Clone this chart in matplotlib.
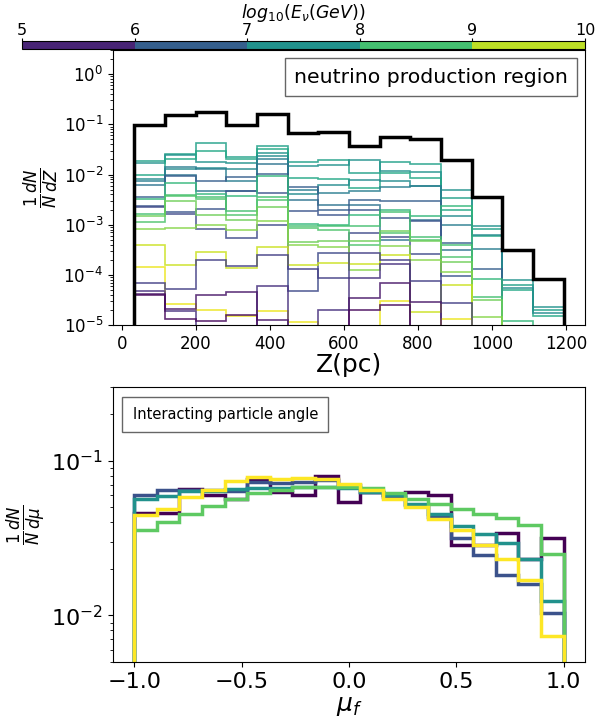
import numpy as np
import matplotlib
matplotlib.use('Agg')
import matplotlib.pyplot as plt
from matplotlib.offsetbox import AnchoredText

# top panel: Z bins (pc) and log10 of 1/N dN/dZ
z_edges = np.linspace(34, 1194, 15)
total_log = [-1.02, -0.82, -0.75, -1.02, -0.79, -1.18, -1.15, -1.44, -1.25, -1.30, -1.72, -2.45, -3.50, -4.08]

energies = [7.8, 7.55, 7.95, 7.4, 7.1, 6.9, 6.5, 6.3, 6.1, 8.3, 8.5, 8.6, 8.9, 9.1, 9.6, 9.85, 5.9, 5.7, 5.3, 5.1]
lines_log = [
    [-1.73, -1.59, -1.38, -1.65, -1.43, -1.75, -1.72, -1.97, -1.75, -1.79, -2.47, -3.08, -4.20, -4.71],
    [-1.78, -1.62, -1.75, -1.77, -1.57, -1.83, -1.81, -1.72, -1.93, -1.95, -2.30, -3.03, -4.11, -4.65],
    [-2.00, -1.70, -1.53, -1.70, -1.50, -2.07, -2.09, -2.27, -1.97, -2.07, -2.70, -3.23, -4.30, -4.82],
    [-2.09, -1.90, -1.87, -1.90, -1.63, -2.38, -2.20, -2.11, -2.12, -2.23, -2.83, -3.20, -4.27, -4.77],
    [-2.13, -1.85, -1.90, -2.13, -1.70, -2.30, -2.37, -2.33, -2.25, -2.23, -3.00, -3.48, -6, -6],
    [-2.20, -2.00, -2.33, -2.33, -1.80, -2.50, -2.60, -2.60, -3.31, -2.90, -3.50, -6, -6, -6],
    [-2.45, -2.03, -2.12, -2.05, -1.99, -2.25, -2.71, -2.50, -2.52, -2.53, -3.37, -3.88, -6, -6],
    [-2.62, -2.75, -2.69, -2.33, -2.37, -2.72, -2.81, -2.70, -2.87, -2.93, -4.03, -6, -6, -6],
    [-2.65, -2.79, -3.08, -3.27, -3.01, -4.33, -3.57, -3.17, -3.25, -3.59, -6, -6, -6, -6],
    [-2.49, -2.17, -2.38, -2.42, -2.03, -2.98, -3.00, -2.81, -2.70, -2.83, -2.62, -4.09, -4.93, -6],
    [-2.79, -2.40, -2.45, -2.73, -2.45, -3.02, -3.03, -3.03, -2.75, -3.25, -3.40, -4.45, -6, -6],
    [-2.95, -2.43, -2.48, -2.80, -2.50, -3.07, -3.10, -3.40, -3.17, -3.30, -3.65, -6, -6, -6],
    [-2.83, -2.52, -2.81, -2.91, -2.65, -3.35, -3.33, -3.33, -3.13, -3.33, -3.75, -4.50, -6, -6],
    [-3.09, -3.07, -3.00, -3.10, -2.93, -3.40, -3.45, -3.91, -3.42, -3.70, -3.95, -4.85, -6, -6],
    [-3.41, -3.80, -3.55, -3.87, -3.45, -3.81, -3.77, -3.78, -3.60, -4.75, -4.20, -6, -6, -6],
    [-3.85, -4.59, -4.70, -4.83, -4.73, -4.95, -6, -6, -4.53, -6, -4.88, -6, -6, -6],
    [-4.17, -4.29, -3.71, -3.83, -3.60, -3.88, -4.07, -3.57, -3.70, -4.12, -4.57, -6, -6, -6],
    [-4.33, -4.73, -6, -6, -4.23, -6, -4.70, -4.07, -3.78, -6, -6, -6, -6, -6],
    [-4.38, -4.69, -4.40, -4.35, -4.90, -6, -6, -4.47, -4.17, -4.55, -6, -6, -6, -6],
    [-4.41, -4.88, -4.93, -4.80, -6, -6, -6, -4.71, -4.61, -6, -6, -6, -6, -6],
]

# bottom panel: cos angle bins
mu_edges = np.linspace(-1, 1, 20)
mu_purple = [0.046, 0.046, 0.0658, 0.060, 0.057, 0.076, 0.063, 0.060, 0.080, 0.0545, 0.063, 0.060, 0.0626, 0.060, 0.0285, 0.0285, 0.0344, 0.0233, 0.0315]
mu_blue = [0.060, 0.0648, 0.065, 0.065, 0.0638, 0.0727, 0.0716, 0.0735, 0.075, 0.070, 0.063, 0.0585, 0.052, 0.0436, 0.0318, 0.0245, 0.0182, 0.016, 0.0104]
mu_teal = [0.057, 0.0593, 0.0638, 0.0638, 0.066, 0.067, 0.067, 0.068, 0.068, 0.067, 0.063, 0.060, 0.053, 0.0453, 0.038, 0.0339, 0.0295, 0.0233, 0.0124]
mu_green = [0.0357, 0.040, 0.0453, 0.0513, 0.0567, 0.0622, 0.065, 0.068, 0.068, 0.068, 0.0665, 0.0617, 0.0564, 0.053, 0.0488, 0.0453, 0.0425, 0.0384, 0.0249]
mu_yellow = [0.0446, 0.0488, 0.0586, 0.065, 0.074, 0.079, 0.076, 0.077, 0.076, 0.071, 0.065, 0.057, 0.050, 0.0418, 0.0357, 0.0285, 0.0231, 0.017, 0.0074]

cmap = plt.get_cmap('viridis')
norm = matplotlib.colors.Normalize(vmin=5, vmax=10)

fig = plt.figure(figsize=(5.97, 7.23), dpi=100)
ax1 = fig.add_axes([0.189, 0.5505, 0.791, 0.380])
ax2 = fig.add_axes([0.189, 0.0844, 0.791, 0.380])
cax = fig.add_axes([0.0369, 0.9322, 0.943, 0.011])

z_centers = 0.5 * (z_edges[1:] + z_edges[:-1])
for e, lv in zip(energies, lines_log):
    ax1.hist(z_centers, bins=z_edges, weights=10 ** np.array(lv), histtype='step',
             color=cmap(norm(e)), lw=1.2, alpha=0.85, log=True)
ax1.hist(z_centers, bins=z_edges, weights=10 ** np.array(total_log), histtype='step',
         color='black', lw=2.5, log=True)
ax1.set_yscale('log')
ax1.set_ylim(1e-5, 3)
ax1.set_xlabel('Z(pc)', fontsize=18, labelpad=0)
ax1.set_ylabel(r'$\frac{1}{N}\frac{dN}{dZ}$', fontsize=17, labelpad=2)
ax1.tick_params(labelsize=12)
at = AnchoredText('neutrino production region', loc='upper right', pad=0.45, borderpad=0.4,
                  prop=dict(size=14.7))
at.patch.set_edgecolor('0.4')
ax1.add_artist(at)

mu_centers = 0.5 * (mu_edges[1:] + mu_edges[:-1])
mu_colors = [cmap(x) for x in np.linspace(0, 1, 5)]
for vals, c in zip([mu_purple, mu_blue, mu_teal, mu_green, mu_yellow], mu_colors):
    ax2.hist(mu_centers, bins=mu_edges, weights=vals, histtype='step', color=c, lw=2.5, log=True)
ax2.set_yscale('log')
ax2.set_ylim(0.005, 0.3)
ax2.set_xlabel(r'$\mu_f$', fontsize=18, labelpad=2)
ax2.set_ylabel(r'$\frac{1}{N}\frac{dN}{d\mu}$', fontsize=17, labelpad=2)
ax2.tick_params(labelsize=16)
at2 = AnchoredText('Interacting particle angle', loc='upper left', pad=0.7, borderpad=0.65,
                   prop=dict(size=10.5))
at2.patch.set_edgecolor('0.4')
ax2.add_artist(at2)

sm = matplotlib.cm.ScalarMappable(norm=norm, cmap=cmap)
cb = fig.colorbar(sm, cax=cax, orientation='horizontal', boundaries=np.linspace(5, 10, 6),
                  ticks=[5, 6, 7, 8, 9, 10])
cax.xaxis.set_ticks_position('top')
cax.xaxis.set_label_position('top')
cax.tick_params(labelsize=11.5, length=2, pad=0.5)
cb.set_label(r'$log_{10}(E_\nu(GeV))$', fontsize=12.5, labelpad=3)

fig.savefig('out.png', dpi=100)
